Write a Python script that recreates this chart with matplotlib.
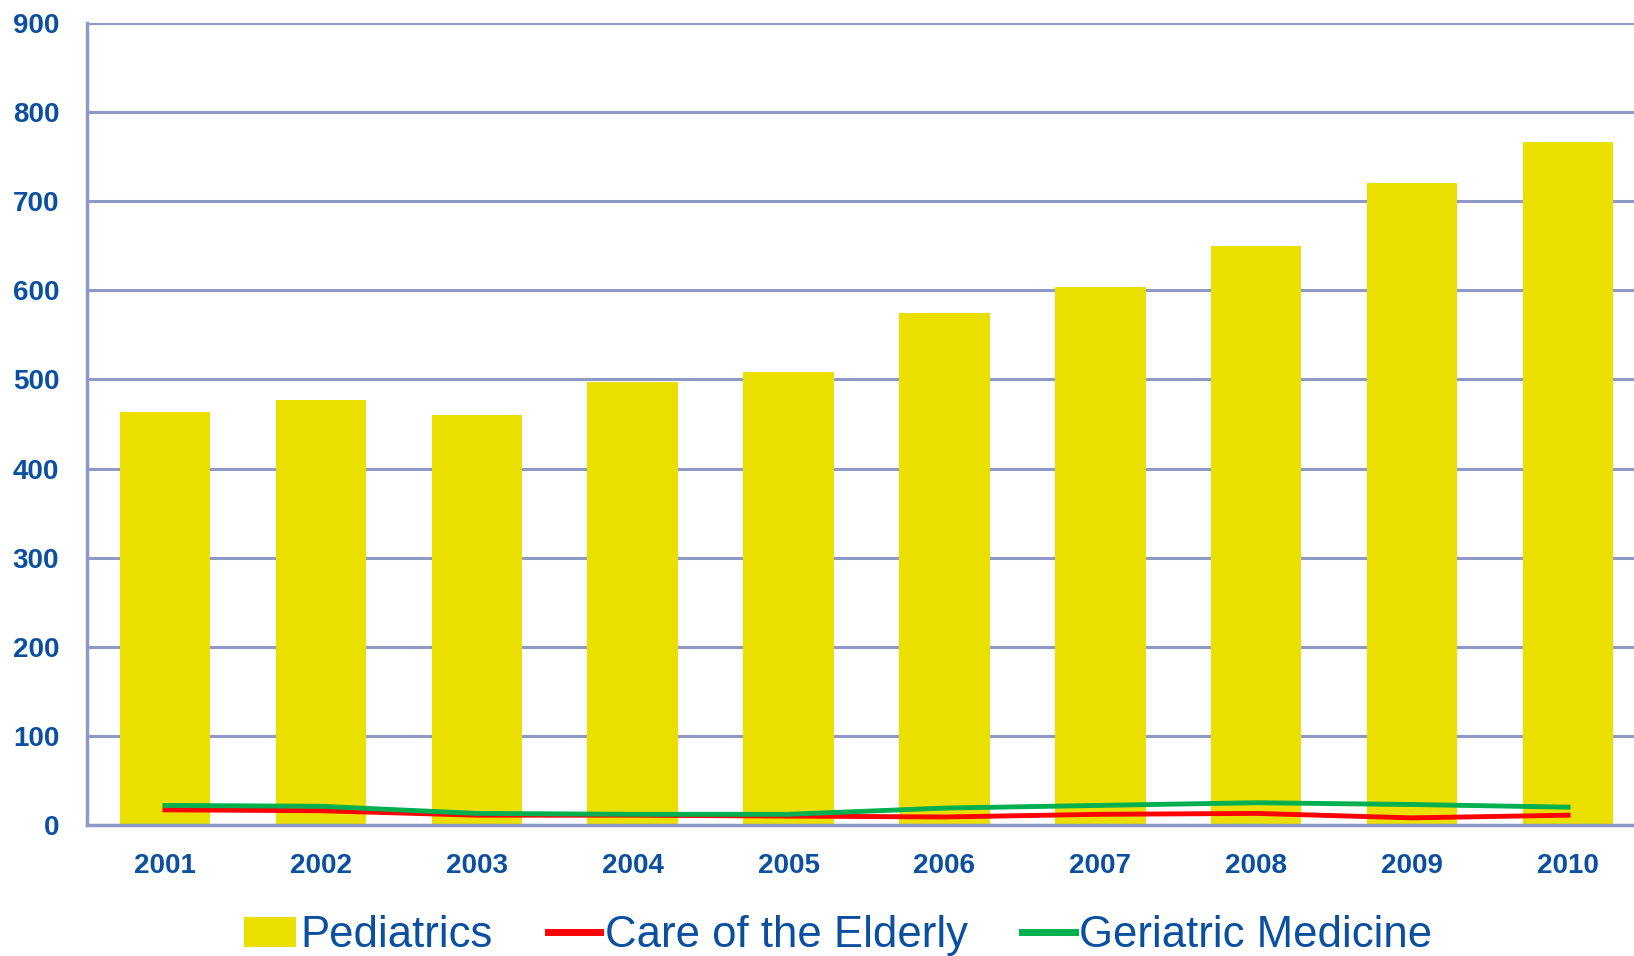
import matplotlib.pyplot as plt
import numpy as np

# data
years = ['2001', '2002', '2003', '2004', '2005', '2006', '2007', '2008', '2009', '2010']
pediatrics = [463, 477, 460, 497, 508, 575, 604, 650, 720, 767]
care_elderly = [17, 16, 11, 11, 10, 9, 12, 13, 8, 11]
geriatric = [22, 21, 13, 12, 12, 19, 22, 25, 23, 20]

TXT = '#0b4fa0'
GRID = '#8e9ac6'

plt.rcParams['font.family'] = ['Liberation Sans', 'DejaVu Sans']

fig = plt.figure(figsize=(16.34, 9.56), dpi=100)
ax = fig.add_axes([87/1634, 1 - 825/956, 1559/1634, 802/956])

x = np.arange(len(years))
b = ax.bar(x, pediatrics, width=0.58, color='#ebdf00', label='Pediatrics', zorder=2)
l1, = ax.plot(x, care_elderly, color='#ff0000', lw=3.5, label='Care of the Elderly', zorder=3)
l2, = ax.plot(x, geriatric, color='#00b050', lw=3.5, label='Geriatric Medicine', zorder=4)

ax.set_xlim(-0.5, 9.5)
ax.set_ylim(0, 900)
ax.set_yticks(range(0, 901, 100))
ax.set_xticks(x)
ax.set_xticklabels(years)

ax.yaxis.grid(True, color=GRID, lw=2.2, zorder=1)
ax.set_axisbelow(True)
for s in ['top', 'right']:
    ax.spines[s].set_visible(False)
for s in ['left', 'bottom']:
    ax.spines[s].set_color(GRID)
    ax.spines[s].set_linewidth(2.5)

ax.tick_params(length=0, labelsize=20, labelcolor=TXT)
ax.tick_params(axis='x', pad=20)
ax.tick_params(axis='y', pad=20)
for lab in ax.get_xticklabels() + ax.get_yticklabels():
    lab.set_fontweight('bold')

leg = fig.legend([b, l1, l2], ['Pediatrics', 'Care of the Elderly', 'Geriatric Medicine'],
                 loc='center', bbox_to_anchor=(838/1634, 0.021), ncol=3, frameon=False,
                 fontsize=31.5, handlelength=1.2, handletextpad=0.1, columnspacing=1.25,
                 borderpad=0)
for t in leg.get_texts():
    t.set_color(TXT)
for h in leg.legend_handles[1:]:
    h.set_linewidth(5)

fig.savefig('out.png', dpi=100)
